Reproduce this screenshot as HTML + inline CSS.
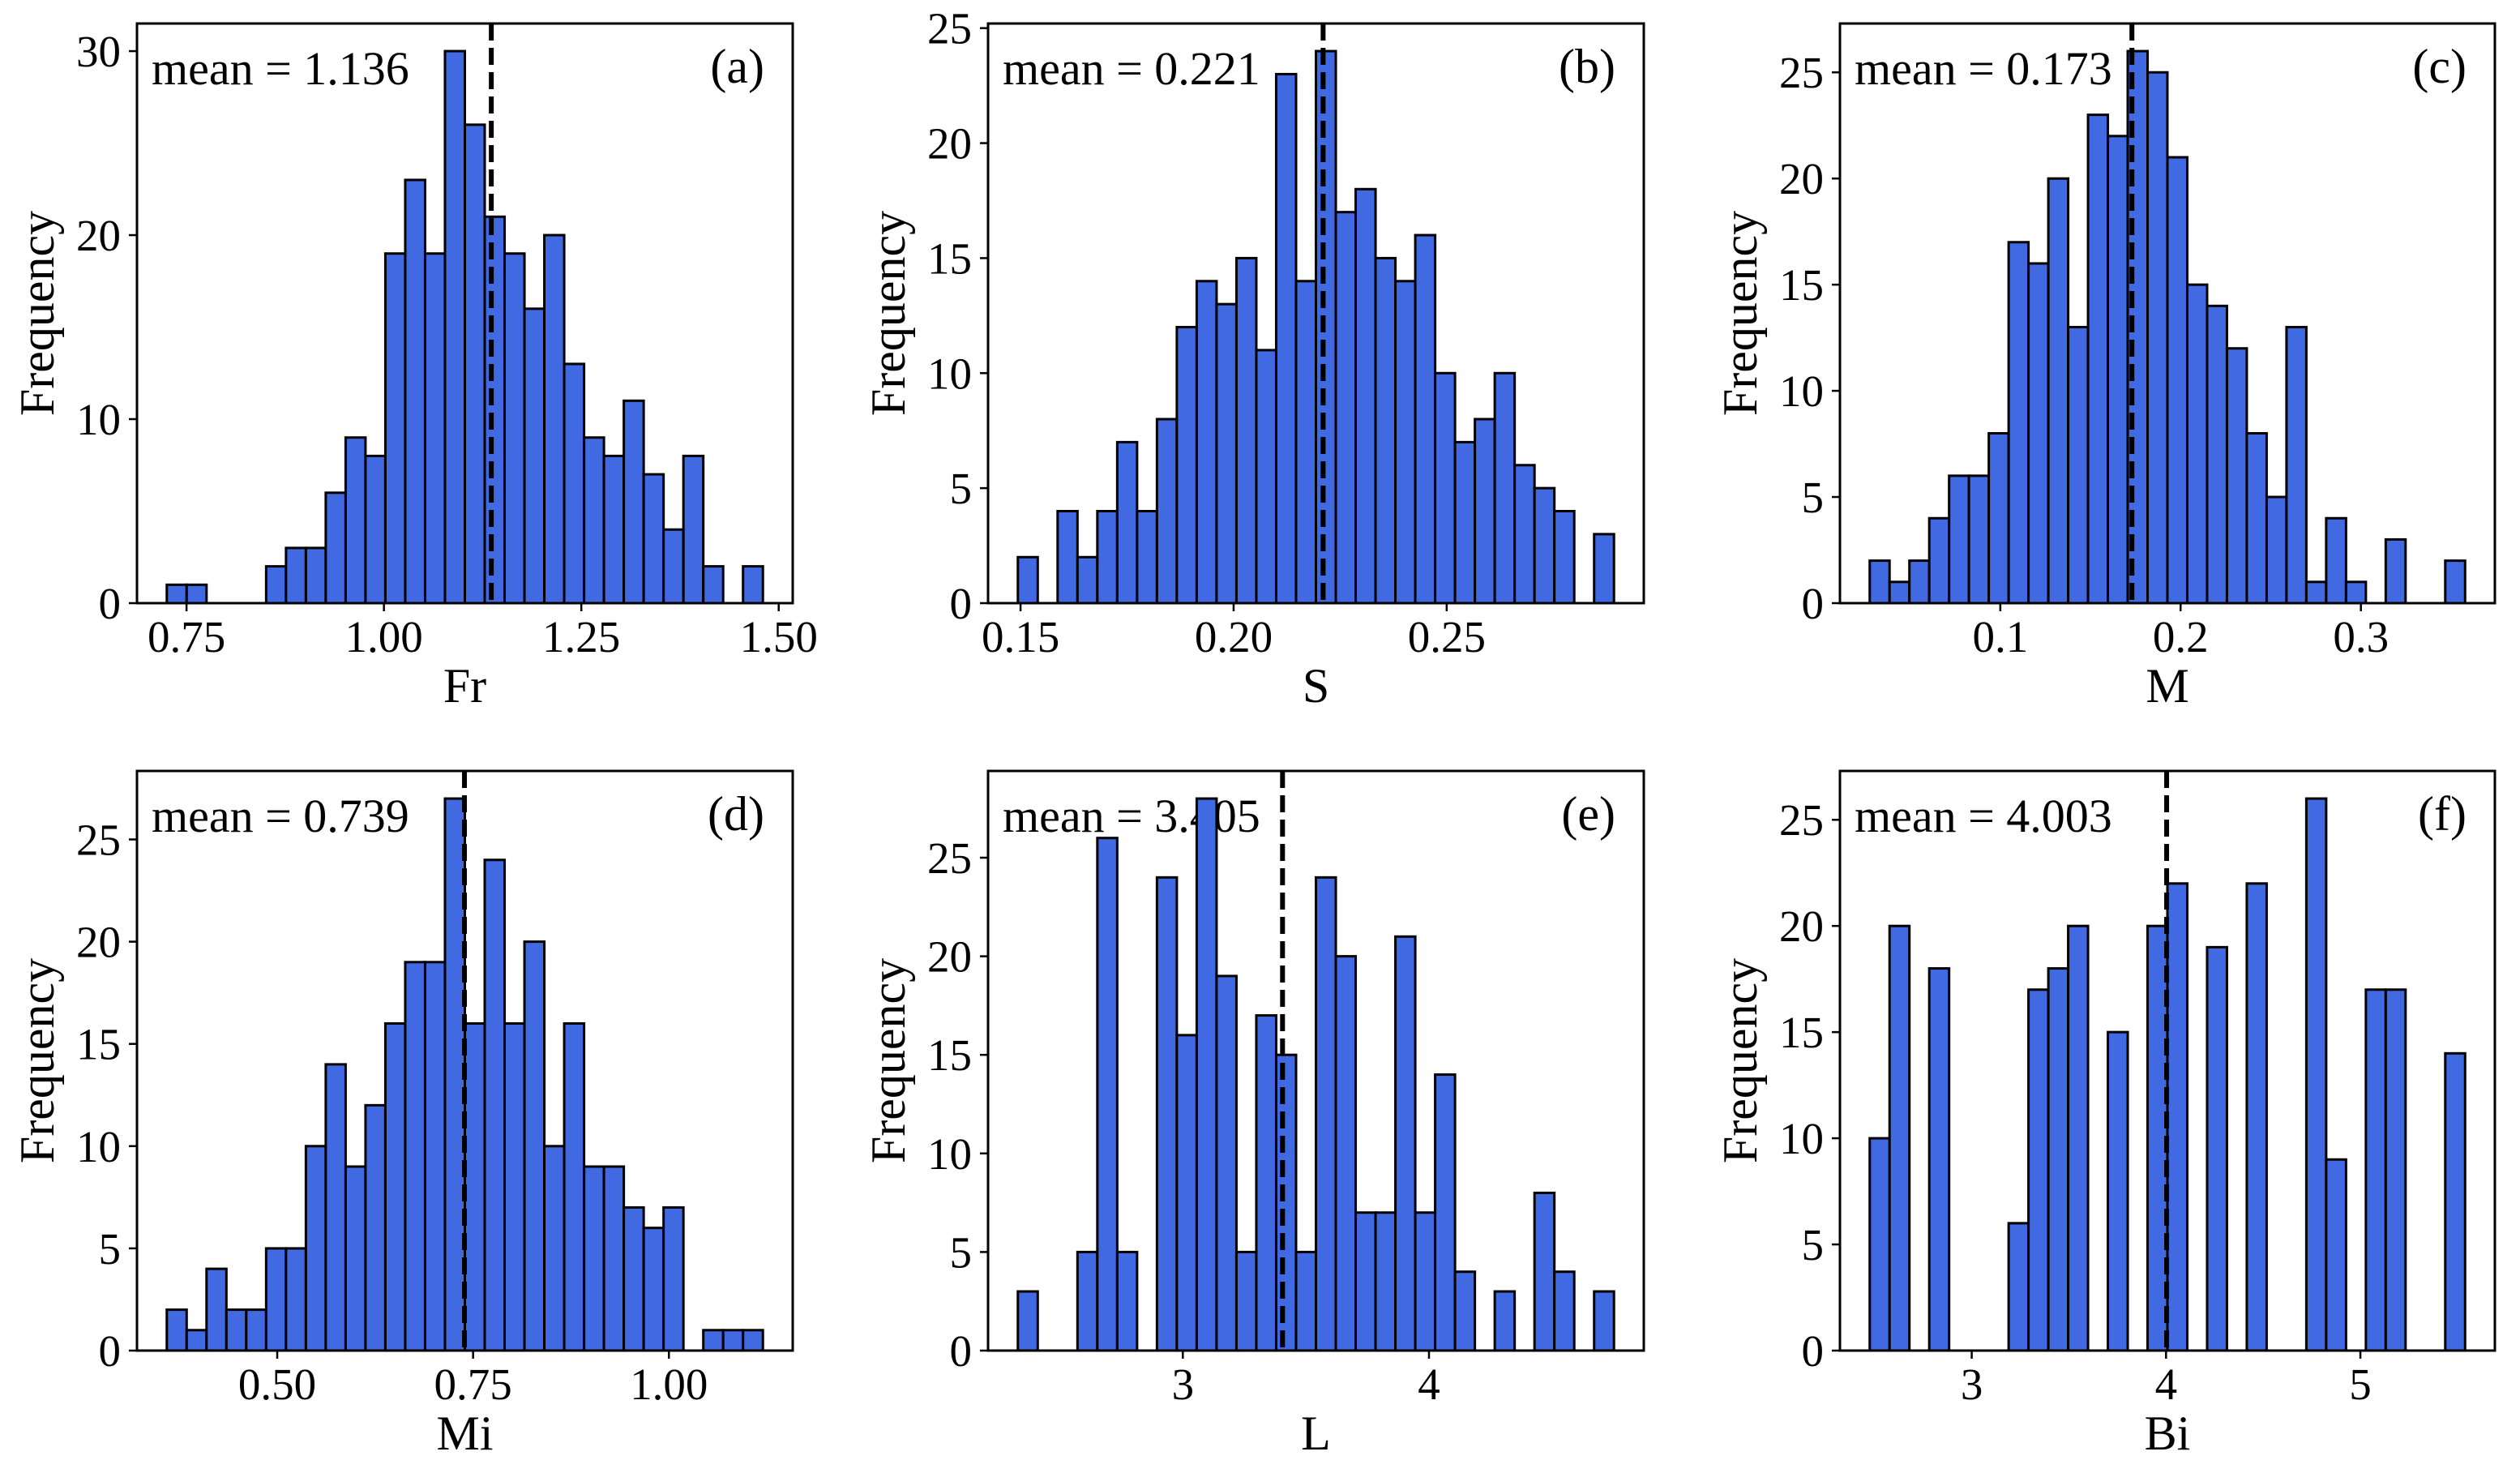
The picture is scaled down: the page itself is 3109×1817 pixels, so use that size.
<!DOCTYPE html>
<html><head><meta charset="utf-8"><style>
html,body{margin:0;padding:0;background:#fff;}
svg{display:block;font-family:"Liberation Serif","DejaVu Serif",serif;}
</style></head><body>
<svg id="fig" width="3109" height="1817" viewBox="0 0 3109 1817" xmlns="http://www.w3.org/2000/svg"></svg>
<script>
// ---- data ----
const countsA = [1,1,0,0,0,2,3,3,6,9,8,19,23,19,30,26,21,19,16,20,13,9,8,11,7,4,8,2,0,2];
const countsB = [2,0,4,2,4,7,4,8,12,14,13,15,11,23,14,24,17,18,15,14,16,10,7,8,10,6,5,4,0,3];
const countsC = [2,1,2,4,6,6,8,17,16,20,13,23,22,26,25,21,15,14,12,8,5,13,1,4,1,0,3,0,0,2];
const countsD = [2,1,4,2,2,5,5,10,14,9,12,16,19,19,27,16,24,16,20,10,16,9,9,7,6,7,0,1,1,1];
const countsE = [3,0,0,5,26,5,0,24,16,28,19,5,17,15,5,24,20,7,7,21,7,14,4,0,3,0,8,4,0,3];
const countsF = [10,20,0,18,0,0,0,6,17,18,20,0,15,0,20,22,0,19,0,22,0,0,26,9,0,17,17,0,0,14];
const binRangeA = [0.725, 1.480];
const binRangeB = [0.14937, 0.28926];
const binRangeC = [0.02757, 0.3578];
const binRangeD = [0.359, 1.120];
const binRangeE = [2.3297, 4.7517];
const binRangeF = [2.475, 5.539];
const meansA = [1.136], meansB = [0.221], meansC = [0.173], meansD = [0.739], meansE = [3.405], meansF = [4.003];
const xTicksA = [0.75, 1.00, 1.25, 1.50], xTickLabelsA = ["0.75","1.00","1.25","1.50"];
const xTicksB = [0.15, 0.20, 0.25], xTickLabelsB = ["0.15","0.20","0.25"];
const xTicksC = [0.1, 0.2, 0.3], xTickLabelsC = ["0.1","0.2","0.3"];
const xTicksD = [0.50, 0.75, 1.00], xTickLabelsD = ["0.50","0.75","1.00"];
const xTicksE = [3, 4], xTickLabelsE = ["3","4"];
const xTicksF = [3, 4, 5], xTickLabelsF = ["3","4","5"];
const yTicksA = [0,10,20,30];
const yTicksB = [0,5,10,15,20,25];
const yTicksC = [0,5,10,15,20,25];
const yTicksD = [0,5,10,15,20,25];
const yTicksE = [0,5,10,15,20,25];
const yTicksF = [0,5,10,15,20,25];
const xLabels = ["Fr","S","M","Mi","L","Bi"];
const panelTags = ["(a)","(b)","(c)","(d)","(e)","(f)"];

const NS = "http://www.w3.org/2000/svg";
const svg = document.getElementById("fig");
function mk(tag, attrs, parent){ const e=document.createElementNS(NS,tag); for(const k in attrs) e.setAttribute(k,attrs[k]); (parent||svg).appendChild(e); return e; }

const boxes = [
  {l:169,r:978,t:29,b:744},{l:1219,r:2028,t:29,b:744},{l:2270,r:3078,t:29,b:744},
  {l:169,r:978,t:951,b:1666},{l:1219,r:2028,t:951,b:1666},{l:2270,r:3078,t:951,b:1666}
];
const panels = [
  [countsA,binRangeA,meansA,xTicksA,xTickLabelsA,yTicksA],
  [countsB,binRangeB,meansB,xTicksB,xTickLabelsB,yTicksB],
  [countsC,binRangeC,meansC,xTicksC,xTickLabelsC,yTicksC],
  [countsD,binRangeD,meansD,xTicksD,xTickLabelsD,yTicksD],
  [countsE,binRangeE,meansE,xTicksE,xTickLabelsE,yTicksE],
  [countsF,binRangeF,meansF,xTicksF,xTickLabelsF,yTicksF]
];

panels.forEach((p,i)=>{
  const [counts,range,means,xt,xtl,yt]=p; const bx=boxes[i];
  const g = mk("g",{});
  
  
  const span=range[1]-range[0];
  const x0=range[0]-0.05*span, x1=range[1]+0.05*span;
  const ymax=Math.max(...counts)*1.05;
  const X=v=>bx.l+(v-x0)/(x1-x0)*(bx.r-bx.l);
  const Y=v=>bx.b-v/ymax*(bx.b-bx.t);
  const mt = mk("text",{x:bx.l+18,y:bx.t+75,"font-size":58,fill:"#000"},g);
  mt.textContent="mean = "+means[0].toFixed(3);
  
  
  const w=span/counts.length;
  counts.forEach((c,k)=>{
    if(c<=0) return;
    const xa=X(range[0]+k*w), xb=X(range[0]+(k+1)*w);
    const r=mk("rect",{x:xa,y:Y(c),width:xb-xa,height:Y(0)-Y(c),fill:"#4169e1",stroke:"#000","stroke-width":3},g);
    
    
  });
  const ml=mk("line",{x1:X(means[0]),x2:X(means[0]),y1:bx.t,y2:bx.b,stroke:"#000","stroke-width":6,"stroke-dasharray":"21 9"},g);
  
  
  const tg=mk("text",{x:bx.r-35,y:bx.t+73,"font-size":60,"text-anchor":"end",fill:"#000"},g);
  tg.textContent=panelTags[i];
  
  
  const fr=mk("rect",{x:bx.l,y:bx.t,width:bx.r-bx.l,height:bx.b-bx.t,fill:"none",stroke:"#000","stroke-width":3},g);
  
  
  xt.forEach((v,k)=>{
    const tx=X(v);
    const tl=mk("line",{x1:tx,x2:tx,y1:bx.b,y2:bx.b+10,stroke:"#000","stroke-width":2.5},g);
    
    
    const t=mk("text",{x:tx,y:bx.b+60,"font-size":55,"text-anchor":"middle",fill:"#000"},g);
    t.textContent=xtl[k];
    
    
  });
  yt.forEach(v=>{
    const ty=Y(v);
    const tl=mk("line",{x1:bx.l-10,x2:bx.l,y1:ty,y2:ty,stroke:"#000","stroke-width":2.5},g);
    
    
    const t=mk("text",{x:bx.l-20,y:ty+19,"font-size":55,"text-anchor":"end",fill:"#000"},g);
    t.textContent=String(v);
    
    
  });
  const xl=mk("text",{x:(bx.l+bx.r)/2,y:bx.b+122,"font-size":60,"text-anchor":"middle",fill:"#000"},g);
  xl.textContent=xLabels[i];
  
  
  const cy=(bx.t+bx.b)/2, cx=bx.l-103;
  const yl=mk("text",{x:cx,y:cy,"font-size":60,"text-anchor":"middle",fill:"#000",transform:`rotate(-90 ${cx} ${cy})`},g);
  yl.textContent="Frequency";
  
  
});
</script>
</body></html>
